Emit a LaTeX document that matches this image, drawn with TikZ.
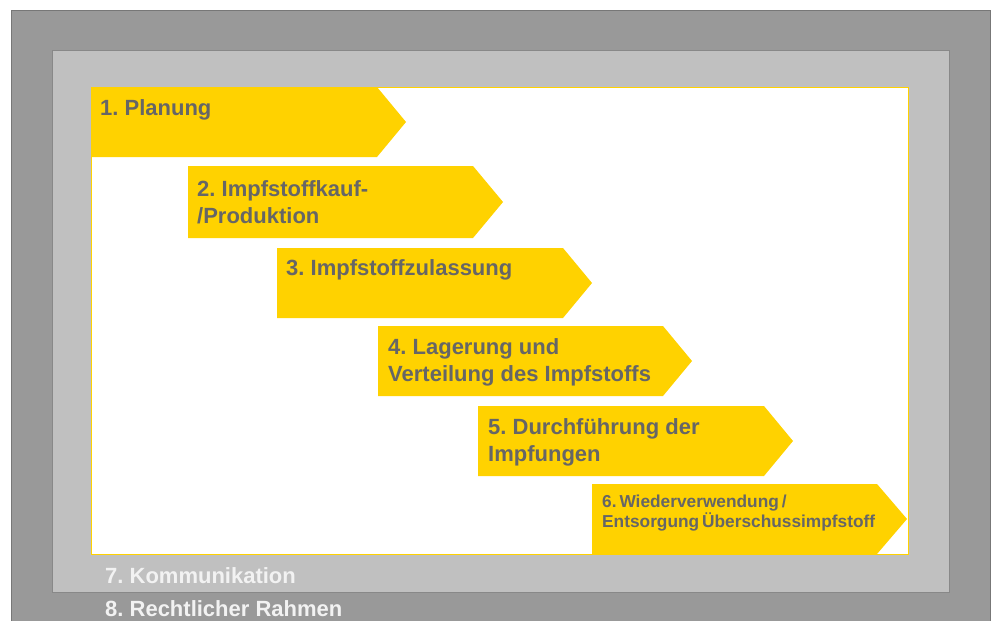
\documentclass[tikz,border=0pt]{standalone}
\usepackage{fontspec}
\setmainfont{Liberation Sans}
\frenchspacing
\definecolor{outerg}{HTML}{999999}
\definecolor{outerb}{HTML}{777777}
\definecolor{innerg}{HTML}{C0C0C0}
\definecolor{innerb}{HTML}{888888}
\definecolor{gold}{HTML}{FFD200}
\definecolor{txtg}{HTML}{666666}
\definecolor{lbl}{HTML}{F2F2F2}
\tikzset{
  stepar/.style={fill=gold, draw=none},
  steptxt/.style={anchor=west, align=left, inner sep=0pt, text=txtg,
    font=\fontsize{22}{27}\selectfont\bfseries},
  smalltxt/.style={anchor=west, align=left, inner sep=0pt, text=txtg,
    font=\fontsize{17.3}{20.5}\selectfont\bfseries},
  frametxt/.style={anchor=west, inner sep=0pt, text=lbl,
    font=\fontsize{22}{26}\selectfont\bfseries},
}
\begin{document}
\begin{tikzpicture}[x=1pt,y=-1pt]
\useasboundingbox (0,0) rectangle (996,621);
\fill[white] (0,0) rectangle (996,621);
% frames
\filldraw[fill=outerg, draw=outerb, line width=1pt] (11,10) rectangle (990,640);
\filldraw[fill=innerg, draw=innerb, line width=1pt] (52,50) rectangle (949,592);
\filldraw[fill=white, draw=gold, line width=0.6pt] (91,87) rectangle (908,554);
% arrows
\path[stepar] (91,87) -- (377,87) -- (406,122) -- (377,157) -- (91,157) -- cycle;
\path[stepar] (188,166) -- (473,166) -- (503,202) -- (473,238) -- (188,238) -- cycle;
\path[stepar] (277,248) -- (563,248) -- (592,283) -- (563,318) -- (277,318) -- cycle;
\path[stepar] (378,326) -- (663,326) -- (692,361) -- (663,396) -- (378,396) -- cycle;
\path[stepar] (478,406) -- (764,406) -- (793,441) -- (764,476) -- (478,476) -- cycle;
\path[stepar] (592,484) -- (877,484) -- (907,519) -- (877,554) -- (592,554) -- cycle;
% texts
\node[steptxt] (t1) at (100,110) {1. Planung};
\node[steptxt] (t2) at (197,202) {2. Impfstoffkauf-\\/Produktion};
\node[steptxt] (t3) at (286,270) {3. Impfstoffzulassung};
\node[steptxt] (t4) at (388,362) {4. Lagerung und\\Verteilung des Impfstoffs};
\node[steptxt] (t5) at (488,442) {5. Durchführung der\\Impfungen};
\node[smalltxt] (t6) at (602,513) {6.\,Wiederverwendung\,/\\Entsorgung\,Überschussimpfstoff};
\node[frametxt] (t7) at (105,576) {7. Kommunikation};
\node[frametxt] (t8) at (105,609) {8. Rechtlicher Rahmen};
\end{tikzpicture}
\end{document}
